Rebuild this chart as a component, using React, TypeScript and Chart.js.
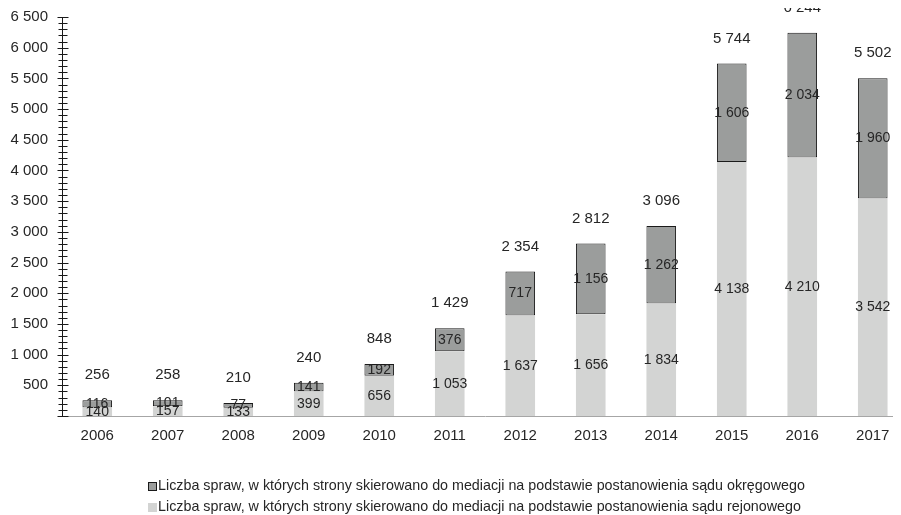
import React, { useEffect, useRef } from 'react';
import { Chart, registerables } from 'chart.js';

Chart.register(...registerables);

const years = ['2006', '2007', '2008', '2009', '2010', '2011', '2012', '2013', '2014', '2015', '2016', '2017'];
const rejonowe = [140, 157, 133, 399, 656, 1053, 1637, 1656, 1834, 4138, 4210, 3542];
const okregowe = [116, 101, 77, 141, 192, 376, 717, 1156, 1262, 1606, 2034, 1960];
const totals = [256, 258, 210, 240, 848, 1429, 2354, 2812, 3096, 5744, 6244, 5502];
const yMax = 6500;
const yStep = 500;
const yMinorStep = 100;
const legendOkregowe = 'Liczba spraw, w których strony skierowano do mediacji na podstawie postanowienia sądu okręgowego';
const legendRejonowe = 'Liczba spraw, w których strony skierowano do mediacji na podstawie postanowienia sądu rejonowego';

const FONT = '"Liberation Sans", Arial, sans-serif';
const DARK = '#9b9d9c';
const LIGHT = '#d3d4d3';
const TEXT = '#262626';

const fmt = (n: number) => String(n).replace(/\B(?=(\d{3})+(?!\d))/g, ' ');

const labelsPlugin = {
  id: 'valueLabels',
  afterDatasetsDraw(chart: any) {
    const ctx = chart.ctx;
    ctx.save();
    ctx.fillStyle = TEXT;
    ctx.textAlign = 'center';
    ctx.textBaseline = 'middle';
    ctx.font = `14px ${FONT}`;
    chart.data.datasets.forEach((ds: any, di: number) => {
      const meta = chart.getDatasetMeta(di);
      meta.data.forEach((el: any, i: number) => {
        ctx.fillText(fmt(ds.data[i]), el.x, (el.y + el.base) / 2);
      });
    });
    ctx.font = `15px ${FONT}`;
    const topMeta = chart.getDatasetMeta(1);
    topMeta.data.forEach((el: any, i: number) => {
      ctx.fillText(fmt(totals[i]), el.x, el.y - 25);
    });
    ctx.restore();
  },
};

const axisPlugin = {
  id: 'axisAndLegend',
  afterDraw(chart: any) {
    const { ctx, chartArea } = chart;
    const y = chart.scales.y;
    const x = Math.round(chartArea.left) + 0.5;
    ctx.save();
    ctx.strokeStyle = '#1a1a1a';
    ctx.lineWidth = 1;
    ctx.beginPath();
    ctx.moveTo(x, Math.round(y.getPixelForValue(yMax)));
    ctx.lineTo(x, Math.round(y.getPixelForValue(0)));
    for (let v = 0; v <= yMax; v += yMinorStep) {
      const py = Math.round(y.getPixelForValue(v)) + 0.5;
      const len = v % yStep === 0 ? 5 : 4;
      ctx.moveTo(x - len, py);
      ctx.lineTo(x + len + 1, py);
    }
    ctx.stroke();

    // legend
    const lx = 140;
    const rows = [
      { text: legendOkregowe, fill: DARK, border: true, cy: 492 },
      { text: legendRejonowe, fill: LIGHT, border: false, cy: 513 },
    ];
    ctx.font = `14.3px ${FONT}`;
    ctx.textAlign = 'left';
    ctx.textBaseline = 'middle';
    rows.forEach((r) => {
      ctx.fillStyle = r.fill;
      ctx.fillRect(lx, r.cy - 4, 9, 9);
      if (r.border) {
        ctx.strokeStyle = '#1a1a1a';
        ctx.strokeRect(lx + 0.5, r.cy - 3.5, 8, 8);
      }
      ctx.fillStyle = TEXT;
      ctx.fillText(r.text, lx + 10, r.cy);
    });
    ctx.restore();
  },
};

export default function App() {
  const ref = useRef<HTMLCanvasElement | null>(null);
  useEffect(() => {
    if (!ref.current) return;
    const chart = new Chart(ref.current, {
      type: 'bar',
      data: {
        labels: years,
        datasets: [
          {
            label: legendRejonowe,
            data: rejonowe,
            backgroundColor: LIGHT,
            borderWidth: 0,
            barPercentage: 0.42,
            categoryPercentage: 1,
          },
          {
            label: legendOkregowe,
            data: okregowe,
            backgroundColor: DARK,
            borderColor: '#1a1a1a',
            borderWidth: 1,
            borderSkipped: false,
            barPercentage: 0.42,
            categoryPercentage: 1,
          },
        ],
      },
      options: {
        animation: false,
        responsive: true,
        maintainAspectRatio: false,
        layout: { padding: { top: 9, bottom: 59, left: 0, right: 0 } },
        plugins: {
          legend: { display: false },
          tooltip: { enabled: false },
        },
        scales: {
          x: {
            stacked: true,
            grid: { display: false, drawTicks: false },
            border: { display: true, color: '#a6a6a6', width: 1 },
            ticks: { color: TEXT, font: { family: FONT, size: 15 }, padding: 11 },
          },
          y: {
            stacked: true,
            min: 0,
            max: yMax,
            grid: { display: false, drawTicks: false },
            border: { display: false },
            afterFit: (scale: any) => {
              scale.width = 54;
            },
            ticks: {
              stepSize: yStep,
              color: TEXT,
              font: { family: FONT, size: 15 },
              padding: 14,
              callback: (v: any) => (Number(v) === 0 ? '' : fmt(Number(v))),
            },
          },
        },
      },
      plugins: [labelsPlugin, axisPlugin],
    });
    return () => chart.destroy();
  }, []);
  return (
    <div style={{ position: 'relative', top: -14, width: 893, height: 521, overflow: 'hidden' }}>
      <div style={{ width: 900, height: 521, position: 'relative' }}>
        <canvas ref={ref} />
      </div>
    </div>
  );
}
